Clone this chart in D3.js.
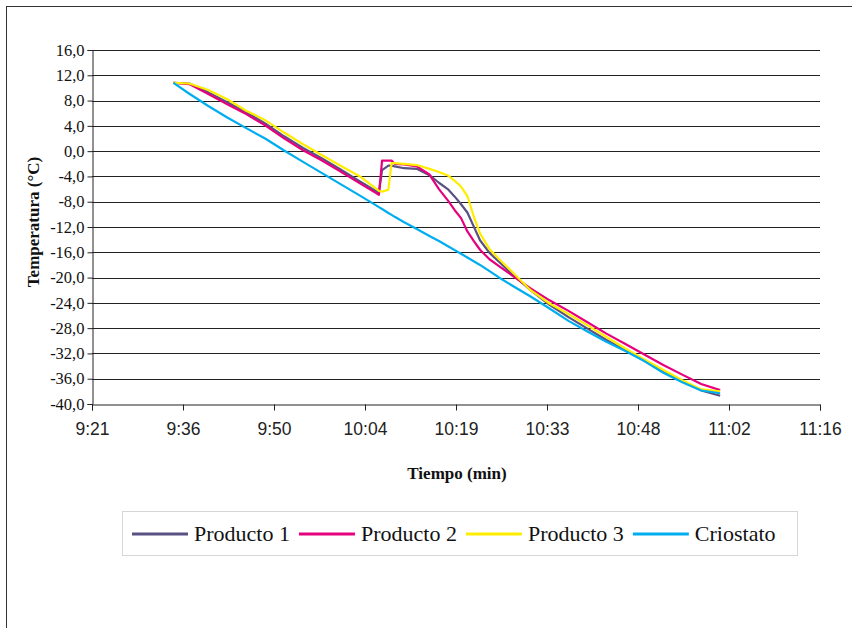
<!DOCTYPE html>
<html>
<head>
<meta charset="utf-8">
<script src="https://cdn.jsdelivr.net/npm/d3@7"></script>
<style>
  html, body { margin: 0; padding: 0; background: #fff; }
  svg { display: block; }
</style>
</head>
<body>
<svg id="chart" width="852" height="628"></svg>
<script>
// ---- DATA ----
const times = ["9:34:30","9:37:00","9:40:00","9:43:00","9:46:00","9:49:00","9:52:00","9:55:00","9:58:00","10:01:00",
  "10:04:00","10:06:30","10:07:00","10:07:30","10:08:30","10:09:00","10:09:30","10:11:00","10:13:00","10:15:00",
  "10:16:30","10:18:00","10:19:00","10:20:00","10:21:00","10:22:00","10:23:00","10:24:30","10:26:00","10:28:00",
  "10:31:00","10:34:00","10:37:00","10:40:00","10:43:00","10:46:00","10:49:00","10:52:00","10:55:00","10:58:00","11:01:00"];

const producto1 = [10.8,10.7,9.3,7.75,6.15,4.4,2.35,0.5,-1.15,-2.95,-4.8,-6.3,-6.6,-3.0,-2.3,-2.3,-2.4,-2.7,-2.8,-3.8,
  -5.0,-6.1,-7.2,-8.4,-9.7,-11.9,-14.1,-16.1,-17.5,-19.4,-22.0,-24.3,-26.25,-28.07,-29.87,-31.52,-33.16,-34.82,-36.35,-37.84,-38.7];
const producto2 = [10.8,10.6,9.04,7.43,5.86,4.1,2.01,0.15,-1.49,-3.27,-5.09,-6.6,-6.9,-1.5,-1.5,-1.5,-2.0,-2.1,-2.4,-3.7,
  -6.0,-7.9,-9.35,-10.6,-12.7,-14.2,-15.6,-17.1,-18.2,-19.6,-21.7,-23.6,-25.27,-27.07,-28.87,-30.52,-32.16,-33.82,-35.35,-36.84,-37.8];
const producto3 = [10.8,10.7,9.66,8.2,6.4,4.9,2.94,1.09,-0.66,-2.35,-4.0,-5.9,-6.3,-6.4,-6.1,-1.9,-1.9,-2.0,-2.2,-2.8,
  -3.3,-3.9,-4.7,-5.6,-7.1,-10.3,-13.0,-15.5,-17.05,-19.0,-22.0,-24.1,-25.77,-27.57,-29.4,-31.22,-32.96,-34.62,-36.24,-37.7,-38.0];
const criostato = [10.8,9.08,7.14,5.33,3.64,2.0,0.1,-1.69,-3.47,-5.25,-7.03,-8.54,-8.85,-9.15,-9.78,-10.08,-10.39,-11.26,-12.33,-13.41,
  -14.21,-15.08,-15.66,-16.24,-16.83,-17.42,-18.0,-18.99,-19.98,-21.21,-22.99,-24.89,-26.85,-28.53,-30.16,-31.61,-33.21,-35.05,-36.55,-37.87,-38.3];

const seriesNames = ["Producto 1","Producto 2","Producto 3","Criostato"];
const seriesColors = ["#5a5082","#e6007e","#ffed00","#00aeef"];

const xTickDays = [0.39,0.40,0.41,0.42,0.43,0.44,0.45,0.46,0.47];
const xTickLabels = ["9:21","9:36","9:50","10:04","10:19","10:33","10:48","11:02","11:16"];
const yTicks = [16,12,8,4,0,-4,-8,-12,-16,-20,-24,-28,-32,-36,-40];

const xTitle = "Tiempo (min)";
const yTitle = "Temperatura (°C)";

// ---- CHART ----
const serif = "'Liberation Serif','Times New Roman',serif";
const svg = d3.select("#chart");
const toMin = s => { const p = s.split(":").map(Number); return p[0]*60 + p[1] + (p[2]||0)/60; };
const tMin = times.map(toMin);

const x = d3.scaleLinear().domain([xTickDays[0]*1440, xTickDays[xTickDays.length-1]*1440]).range([92, 820]);
const y = d3.scaleLinear().domain([-40, 16]).range([404, 50]);

svg.append("rect").attr("x",0).attr("y",0).attr("width",852).attr("height",628).attr("fill","#fff");
// outer frame
svg.append("rect").attr("x",6.5).attr("y",6.5).attr("width",900).attr("height",700)
  .attr("fill","none").attr("stroke","#333").attr("stroke-width",1);

const g = svg.append("g");
// gridlines
g.selectAll("line.grid").data(yTicks.filter(d => d !== -40)).join("line")
  .attr("x1", 92).attr("x2", 820)
  .attr("y1", d => Math.round(y(d)) + 0.5).attr("y2", d => Math.round(y(d)) + 0.5)
  .attr("stroke", "#222").attr("stroke-width", 1);

// y axis
const yAxis = d3.axisLeft(y).tickValues(yTicks).tickSize(5).tickPadding(3)
  .tickFormat(d => d3.format(".1f")(d).replace(".", ",").replace("−","-"));
const yg = svg.append("g").attr("transform","translate(92.5,0)").call(yAxis);
yg.attr("font-family", serif).attr("font-size", 16.5);
yg.select(".domain").attr("stroke","#222");
yg.selectAll(".tick line").attr("stroke","#222");
yg.selectAll(".tick text").style("font-family", serif).style("font-size","16.5px").attr("fill","#111");

// x axis
const xAxis = d3.axisBottom(x).tickValues(xTickDays.map(d => d*1440)).tickSize(6).tickPadding(12)
  .tickFormat((d,i) => xTickLabels[i]);
const xg = svg.append("g").attr("transform","translate(0,404.5)").call(xAxis);
xg.select(".domain").attr("stroke","#222");
xg.selectAll(".tick line").attr("stroke","#222");
xg.selectAll(".tick text").style("font-family","'Liberation Sans',Arial,sans-serif")
  .style("font-size","17.5px").attr("fill","#222");

// axis titles
svg.append("text").attr("x", 457).attr("y", 479).attr("text-anchor","middle")
  .style("font-family", serif).attr("font-weight","bold")
  .style("font-size","17px").attr("fill","#111").text(xTitle);
svg.append("text").attr("transform","translate(39,222) rotate(-90)").attr("text-anchor","middle")
  .style("font-family", serif).attr("font-weight","bold")
  .style("font-size","17px").attr("fill","#111").text(yTitle);

// lines
const allSeries = [producto1, producto2, producto3, criostato];
const line = d3.line().x((d,i) => x(tMin[i])).y(d => y(d));
svg.append("g").selectAll("path").data(allSeries).join("path")
  .attr("d", d => line(d))
  .attr("fill","none")
  .attr("stroke", (d,i) => seriesColors[i])
  .attr("stroke-width", 2.2)
  .attr("stroke-linejoin","round");

// legend
const leg = svg.append("g");
leg.append("rect").attr("x",122.5).attr("y",511.5).attr("width",675).attr("height",44)
  .attr("fill","#fff").attr("stroke","#d6d6d6").attr("stroke-width",1);
let lx = 132;
seriesNames.forEach((name, i) => {
  leg.append("line").attr("x1", lx).attr("x2", lx + 56).attr("y1", 534).attr("y2", 534)
    .attr("stroke", seriesColors[i]).attr("stroke-width", 3);
  const t = leg.append("text").attr("x", lx + 62).attr("y", 541)
    .style("font-family", serif)
    .style("font-size","22px").attr("fill","#111").text(name);
  lx += 62 + t.node().getComputedTextLength() + 9;
});
</script>
</body>
</html>
